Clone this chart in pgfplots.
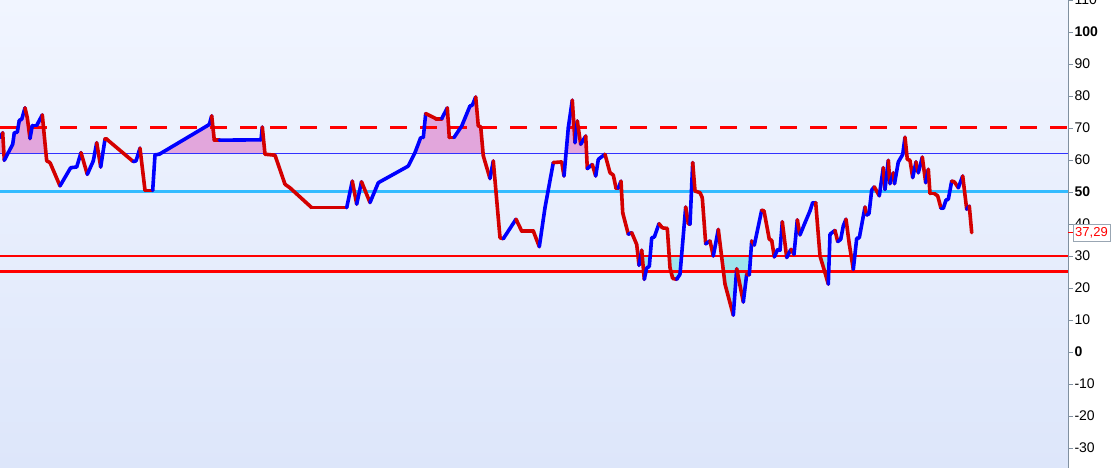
\documentclass[border=0pt]{standalone}
\usepackage{pgfplots}
\pgfplotsset{compat=1.18}
\usepackage{pgfplotstable}
\usepgfplotslibrary{fillbetween}
\usepackage{fontspec}
\setmainfont{Liberation Sans}
\definecolor{bgtop}{RGB}{241,245,255}
\definecolor{bgbot}{RGB}{221,230,250}
\definecolor{sred}{RGB}{212,0,0}
\definecolor{sblue}{RGB}{0,0,255}
\definecolor{lvl62}{RGB}{50,50,255}
\definecolor{lvl50}{RGB}{51,187,255}
\definecolor{pinkfill}{RGB}{226,166,220}
\definecolor{cyanfill}{RGB}{160,228,236}
\definecolor{axgray}{RGB}{128,144,160}

\pgfplotstableread{
x y c
0 67.0 1
2.7 68.5 0
4.3 59.9 1
8.3 62.3 1
12.7 64.9 1
14.3 68.5 1
17.3 68.7 1
19.3 72.4 1
21.7 72.7 1
25 76.3 0
27.3 73.2 0
30 66.7 1
32.3 70.8 1
36.7 70.8 1
42.3 74.1 0
46.7 59.7 0
50 59.2 0
60 51.9 1
70.7 57.6 1
76.7 57.8 1
81 62.3 0
87.3 55.5 1
93.3 59.7 1
96.7 65.4 0
100.7 57.8 1
105 66.5 0
106.7 66.5 0
133.3 59.5 1
136 59.7 1
140 63.7 0
145 50.5 0
152.7 50.5 1
155 61.6 1
159.3 61.8 1
206.7 70.6 1
209.3 71.1 1
211.7 73.8 0
214.3 66.2 0
219.3 66.2 1
261 66.3 1
262.3 70.3 0
265 61.8 0
275 61.5 0
285 52.4 0
290 51.3 0
311.7 45.1 0
346.7 45.1 1
352.3 53.4 0
356.7 46.2 1
361.5 53.2 0
370 46.7 1
378.3 52.9 1
408.3 58.1 1
415 62.3 1
420.7 67.0 1
423.3 67.0 1
425.7 74.5 0
436 72.9 0
441.7 72.9 1
447.3 76.3 0
449.3 67.0 0
454 67.0 1
461.7 70.6 1
470 76.9 1
472.3 77.1 1
475.7 79.7 0
478.3 70.6 0
480.7 70.4 0
483.3 61.3 0
490 54.2 1
493.3 59.7 0
500 35.7 0
503.3 35.4 1
516 41.5 0
521.7 37.8 0
533.3 37.8 0
539.3 32.9 1
545 45.1 1
553.3 59.2 0
561.7 59.4 0
564 55.0 1
568.3 70.1 1
572.3 78.7 0
575 65.4 1
577.3 72.2 0
580.7 64.9 1
585.7 67.5 0
587.3 57.3 1
592.3 58.6 0
595.7 55.0 1
598.3 60.2 1
605 61.8 0
610 56.0 0
613.3 55.3 0
616 51.2 0
618.3 51.2 1
621 53.4 0
622.7 43.5 0
628.3 36.8 1
631.7 37.3 0
636.7 33.6 0
639 27.1 1
641.7 31.8 0
644.3 22.7 1
646.7 26.3 1
649.3 26.7 1
651.7 35.7 1
654.3 35.9 1
659 40.1 0
662.3 38.8 0
667.3 38.6 0
670 26.3 0
672.7 23.0 0
676.7 22.7 1
680 24.3 1
685.7 45.3 0
688.3 40.1 0
690 39.9 1
692.7 59.2 0
695 50.3 0
700 49.8 0
702.3 48.2 0
705.7 33.8 1
710 34.7 0
713.3 30.0 1
718.3 38.3 0
725 21.2 0
733.3 11.5 1
736.7 26.0 0
743.3 15.6 1
746.7 24.3 0
749.3 24.1 1
751.7 34.7 0
754.3 33.4 1
761.7 44.3 0
764 44.1 0
769.3 35.2 0
771.7 34.9 0
774.3 29.7 1
777.3 31.8 1
780 31.8 1
782.3 40.7 0
786.7 29.5 1
791 32.1 0
794 30.5 1
797.3 41.3 0
800 36.6 1
805 40.4 1
810 44.1 1
812.7 46.7 1
815.7 46.7 0
820 30.0 0
825 24.8 0
828.3 21.2 1
830 36.8 1
835 38.0 0
837.7 34.5 1
840.7 35.2 1
843.3 39.4 1
846 41.5 0
849.3 33.7 0
853.3 25.8 1
856.7 35.5 1
859.3 35.7 1
865 45.3 0
866.7 42.8 1
869 43.2 1
871.7 50.6 1
874.3 51.6 0
879.3 48.8 1
883.3 57.6 0
885 50.8 1
888.3 59.9 0
890 52.6 1
893.3 56.0 0
894.5 52.6 1
898.3 59.4 1
902.7 61.7 1
905 67.1 0
907.3 60.2 0
910 59.9 0
912.7 54.5 1
916 59.4 0
918.3 56.0 1
922.3 60.9 0
925.7 52.9 1
928.3 57.1 0
930 49.5 0
934.3 49.5 0
937.7 48.8 0
941 44.9 1
943.3 44.9 1
946 47.5 1
948.3 47.7 1
951.7 53.4 0
954.3 53.2 0
958.3 51.3 1
962.7 55.0 0
966.7 44.6 1
969.3 45.6 0
971.7 37.29 0
}\rsi

\begin{document}
\begin{tikzpicture}
\begin{axis}[
  at={(0pt,0pt)}, anchor=south west,
  scale only axis, width=1068pt, height=468pt,
  xmin=0, xmax=1068, ymin=-36.25, ymax=110,
  axis x line=none,
  axis y line*=right,
  y axis line style={draw=axgray, line width=1pt},
  xtick=\empty,
  ytick={-30,-20,-10,0,10,20,30,40,50,60,70,80,90,100,110},
  yticklabels={-30,-20,-10,\textbf{0},10,20,30,40,\textbf{50},60,70,80,90,\textbf{100},110},
  tick align=outside,
  major tick length=5pt,
  ytick style={draw=axgray, line width=0.8pt},
  yticklabel style={font=\fontsize{14}{14}\selectfont, text=black, anchor=west, xshift=-2pt},
  axis background/.style={shade, top color=bgtop, bottom color=bgbot},
  clip mode=individual,
]
% invisible path for fills
\addplot[draw=none, name path=rsi, forget plot] table[x=x, y=y] {\rsi};
\addplot[draw=none, name path=l62, forget plot] coordinates {(0,62) (1068,62)};
\addplot[draw=none, name path=l30, forget plot] coordinates {(0,30) (1068,30)};
% overbought fills
\addplot[fill=pinkfill, draw=none] fill between[of=rsi and l62, soft clip={domain=0:3.9}];
\addplot[fill=pinkfill, draw=none] fill between[of=rsi and l62, soft clip={domain=7.8:46.0}];
\addplot[fill=pinkfill, draw=none] fill between[of=rsi and l62, soft clip={domain=159.5:264.9}];
\addplot[fill=pinkfill, draw=none] fill between[of=rsi and l62, soft clip={domain=414.5:483.1}];
\addplot[fill=pinkfill, draw=none] fill between[of=rsi and l62, soft clip={domain=566.0:586.6}];
% oversold fills
\addplot[fill=cyanfill, draw=none] fill between[of=rsi and l30, soft clip={domain=638.0:640.7}];
\addplot[fill=cyanfill, draw=none] fill between[of=rsi and l30, soft clip={domain=642.2:650.2}];
\addplot[fill=cyanfill, draw=none] fill between[of=rsi and l30, soft clip={domain=669.2:681.5}];
\addplot[fill=cyanfill, draw=none] fill between[of=rsi and l30, soft clip={domain=721.5:750.6}];
\addplot[fill=cyanfill, draw=none] fill between[of=rsi and l30, soft clip={domain=820.0:829.3}];
% level lines
\addplot[red, line width=3pt, dash pattern=on 17pt off 13pt] coordinates {(0,70) (1068,70)};
\addplot[lvl62, line width=1pt] coordinates {(0,62) (1068,62)};
\addplot[lvl50, line width=3pt] coordinates {(0,50) (1068,50)};
\addplot[red, line width=1.2pt] coordinates {(0,30) (1068,30)};
\addplot[red, line width=3pt] coordinates {(0,25) (1068,25)};
% main series coloured by direction
\addplot[mesh, shader=flat corner, point meta=explicit, point meta min=0, point meta max=1,
  colormap={rb}{color=(sred) color=(sblue)}, line width=3.6pt, line cap=round, line join=round]
  table[x=x, y=y, meta=c] {\rsi};
\coordinate (lv) at (axis cs:1068,37.29);
\end{axis}
% last value marker
\draw[red, line width=1pt] (lv) -- ([xshift=5pt]lv);
\node[draw=axgray!80, fill=white, text=red, font=\fontsize{13}{13}\selectfont, anchor=west,
  inner xsep=2pt, inner ysep=1.5pt, minimum height=17pt] at ([xshift=5pt]lv) {37,29};
\pgfresetboundingbox
\useasboundingbox (0,0) rectangle (1112pt,468pt);
\end{tikzpicture}
\end{document}
